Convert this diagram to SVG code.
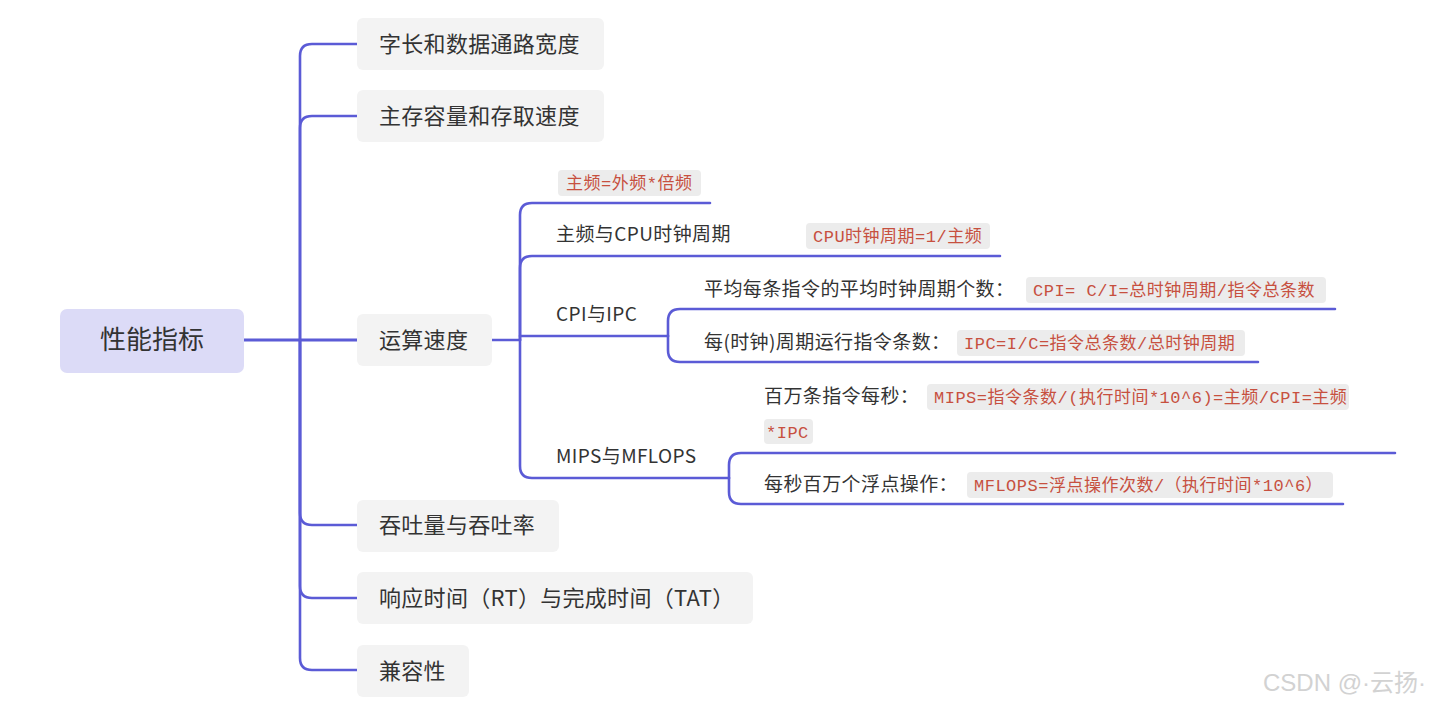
<svg xmlns="http://www.w3.org/2000/svg" width="1435" height="707" viewBox="0 0 1435 707">
<style>
.ln{fill:none;stroke:#5b5bd6;stroke-width:2.6;stroke-linecap:round}
.box{fill:#f3f3f3}
.t1{font-family:"Noto Sans CJK SC","Noto Sans",sans-serif;font-size:22px;letter-spacing:0.3px;fill:#333}
.t2{font-family:"Noto Sans CJK SC","Noto Sans",sans-serif;font-size:19px;letter-spacing:0.4px;fill:#333}
.cb{fill:#ececec}
.code{font-family:"Liberation Mono","Noto Sans CJK SC",monospace;font-size:17px;letter-spacing:0.5px;fill:#c7503f}
</style>
<rect width="1435" height="707" fill="#fff"/>
<g id="connectors">
<path class="ln" d="M244,340 H357" style="stroke-width:3"/>
<path class="ln" d="M300,340 V56 Q300,44 312,44 H357"/>
<path class="ln" d="M300,340 V128 Q300,116 312,116 H357"/>
<path class="ln" d="M300,340 V513 Q300,525 312,525 H357"/>
<path class="ln" d="M300,340 V586 Q300,598 312,598 H357"/>
<path class="ln" d="M300,340 V658 Q300,670 312,670 H357"/>
<path class="ln" d="M492,340 H520"/>
<path class="ln" d="M520,340 V215 Q520,203 532,203 H710"/>
<path class="ln" d="M520,340 V268 Q520,256 532,256 H1000"/>
<path class="ln" d="M520,336 H668"/>
<path class="ln" d="M520,340 V466 Q520,478 532,478 H729"/>
<path class="ln" d="M668,336 V321 Q668,309 680,309 H1335"/>
<path class="ln" d="M668,336 V350 Q668,362 680,362 H1258"/>
<path class="ln" d="M729,478 V465 Q729,453 741,453 H1395"/>
<path class="ln" d="M729,478 V492 Q729,504 741,504 H1343"/>
</g>
<g id="root">
<rect x="60" y="309" width="184" height="64" rx="7" fill="#dcdbf7"/>
<text x="152" y="349" text-anchor="middle" font-family="Noto Sans CJK SC,sans-serif" font-size="26" fill="#333">性能指标</text>
</g>
<g id="n1">
<rect class="box" x="357" y="18" width="247" height="52" rx="6"/>
<text class="t1" x="379" y="52">字长和数据通路宽度</text>
</g>
<g id="n2">
<rect class="box" x="357" y="90" width="247" height="52" rx="6"/>
<text class="t1" x="379" y="124">主存容量和存取速度</text>
</g>
<g id="n3">
<rect class="box" x="357" y="314" width="135" height="52" rx="6"/>
<text class="t1" x="379" y="348">运算速度</text>
</g>
<g id="n4">
<rect class="box" x="357" y="500" width="202" height="52" rx="6"/>
<text class="t1" x="379" y="533">吞吐量与吞吐率</text>
</g>
<g id="n5">
<rect class="box" x="357" y="572" width="396" height="52" rx="6"/>
<text class="t1" x="379" y="606">响应时间（RT）与完成时间（TAT）</text>
</g>
<g id="n6">
<rect class="box" x="357" y="645" width="112" height="52" rx="6"/>
<text class="t1" x="379" y="679">兼容性</text>
</g>
<g id="n3a">
<rect class="cb" x="558" y="170" width="143" height="26" rx="4"/>
<text class="code" x="566" y="189">主频=外频*倍频</text>
</g>
<g id="n3b">
<text class="t2" x="556" y="241">主频与CPU时钟周期</text>
<rect class="cb" x="806" y="223" width="184" height="26" rx="4"/>
<text class="code" x="813" y="242">CPU时钟周期=1/主频</text>
</g>
<g id="n3c">
<text class="t2" x="556" y="321">CPI与IPC</text>
</g>
<g id="n3c1">
<text class="t2" x="704" y="296">平均每条指令的平均时钟周期个数：</text>
<rect class="cb" x="1026" y="277" width="300" height="26" rx="4"/>
<text class="code" x="1033" y="296">CPI= C/I=总时钟周期/指令总条数</text>
</g>
<g id="n3c2">
<text class="t2" x="704" y="349">每(时钟)周期运行指令条数：</text>
<rect class="cb" x="957" y="330" width="288" height="26" rx="4"/>
<text class="code" x="964" y="349">IPC=I/C=指令总条数/总时钟周期</text>
</g>
<g id="n3d">
<text class="t2" x="556" y="463">MIPS与MFLOPS</text>
</g>
<g id="n3d1">
<text class="t2" x="764" y="403">百万条指令每秒：</text>
<rect class="cb" x="927" y="384" width="422" height="26" rx="4"/>
<text class="code" x="934" y="403">MIPS=指令条数/(执行时间*10^6)=主频/CPI=主频</text>
<rect class="cb" x="764" y="419" width="49" height="25" rx="4"/>
<text class="code" x="766" y="438">*IPC</text>
</g>
<g id="n3d2">
<text class="t2" x="764" y="491">每秒百万个浮点操作：</text>
<rect class="cb" x="967" y="472" width="366" height="26" rx="4"/>
<text class="code" x="974" y="491">MFLOPS=浮点操作次数/（执行时间*10^6）</text>
</g>
<text x="1263" y="691" font-family="Liberation Sans,Noto Sans CJK SC,sans-serif" font-size="24" fill="#d2d2d2">CSDN @·云扬·</text>
</svg>
